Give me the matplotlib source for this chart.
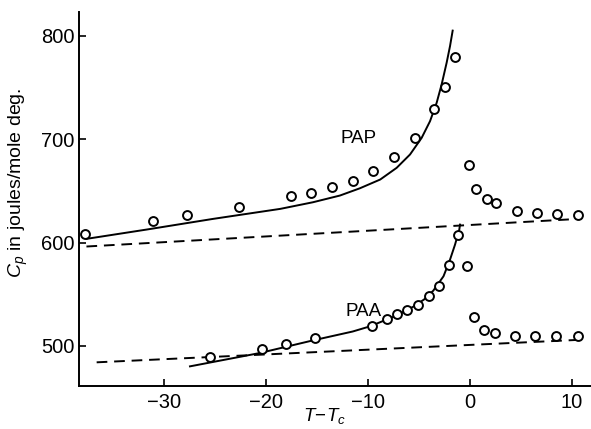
import matplotlib
matplotlib.use("Agg")
import matplotlib.pyplot as plt

plt.rcParams['font.family'] = ['Liberation Sans', 'DejaVu Sans']
plt.rcParams['mathtext.fontset'] = 'custom'
plt.rcParams['mathtext.rm'] = 'Liberation Sans'
plt.rcParams['mathtext.it'] = 'Liberation Sans:italic'

# PAP data points
pap_x = [-37.7, -31.1, -27.7, -22.6, -17.5, -15.6, -13.5, -11.5, -9.5, -7.45, -5.4, -3.5, -2.45, -1.44,
         -0.13, 0.59, 1.63, 2.55, 4.6, 6.6, 8.56, 10.56]
pap_y = [608.4, 621.0, 626.8, 634.5, 644.8, 648.0, 654.0, 659.3, 669.4, 682.6, 701.3, 729.6, 750.5, 779.6,
         674.7, 652.2, 641.8, 637.8, 631.0, 628.8, 627.8, 627.1]
# PAP fitted curve
pap_cx = [-37.6, -31.7, -25.2, -18.6, -15.4, -12.75, -10.8, -8.8, -7.19, -5.88, -4.74, -3.92, -3.27,
          -2.78, -2.29, -1.96, -1.7]
pap_cy = [603.6, 612.6, 622.9, 632.6, 639.0, 645.5, 652.5, 661.0, 672.3, 685.2, 701.3, 717.4, 735.2,
          753.0, 774.0, 790.0, 805.0]
# PAP background (dashed)
pap_bx = [-37.6, 10.8]
pap_by = [596.2, 623.0]

# PAA data points
paa_x = [-25.5, -20.4, -18.0, -15.2, -9.6, -8.17, -7.16, -6.18, -5.13, -4.05, -3.04, -2.06, -1.14,
         -0.26, 0.39, 1.4, 2.45, 4.44, 6.4, 8.43, 10.56]
paa_y = [489.7, 497.4, 502.0, 507.8, 519.6, 526.3, 530.9, 535.0, 540.0, 548.0, 558.4, 578.7, 607.7,
         577.7, 528.0, 515.8, 512.9, 510.0, 509.4, 509.4, 509.4]
# PAA fitted curve
paa_cx = [-27.45, -20.6, -15.4, -11.5, -9.8, -7.2, -5.56, -4.5, -3.6, -2.6, -1.96, -1.47, -1.05, -0.98]
paa_cy = [480.3, 493.2, 505.4, 514.0, 519.0, 529.5, 538.0, 545.0, 553.5, 567.4, 583.5, 598.0, 612.6, 617.4]
# PAA background (dashed)
paa_bx = [-36.6, 10.8]
paa_by = [484.2, 506.0]

xticks = [-30, -20, -10, 0, 10]
xticklabels = ['\u221230', '\u221220', '\u221210', '0', '10']
yticks = [500, 600, 700, 800]

fig = plt.figure(figsize=(5.91, 4.29), dpi=100)
ax = fig.add_axes([79/591, 1 - 386/429, 1 - 79/591, (386 - 12)/429])

lw = 1.4
ax.plot(pap_cx, pap_cy, color='black', lw=lw)
ax.plot(paa_cx, paa_cy, color='black', lw=lw)
ax.plot(pap_bx, pap_by, color='black', lw=lw, ls=(0, (5.5, 3.5)))
ax.plot(paa_bx, paa_by, color='black', lw=lw, ls=(0, (5.5, 3.5)))
ms = dict(ls='none', marker='o', ms=6.4, mfc='white', mec='black', mew=1.4, zorder=3)
ax.plot(pap_x, pap_y, **ms)
ax.plot(paa_x, paa_y, **ms)

ax.set_xlim(-38.33, 11.86)
ax.set_ylim(461.3, 823)
ax.set_xticks(xticks)
ax.set_yticks(yticks)
ax.set_xticklabels(xticklabels)
ax.tick_params(direction='in', length=5, width=1.2, labelsize=14.5, pad=3)
ax.tick_params(axis='x', pad=5)
for s in ['top', 'right']:
    ax.spines[s].set_visible(False)
for s in ['left', 'bottom']:
    ax.spines[s].set_linewidth(1.4)

ax.text(-10.9, 701, 'PAP', fontsize=13.5, ha='center', va='center')
ax.text(-10.4, 533, 'PAA', fontsize=13.5, ha='center', va='center')

fig.text(18/591, 1 - 183/429, r'$C_p$ in joules/mole deg.', rotation=90,
         fontsize=14, ha='center', va='center')
fig.text(325/591, 1 - 416/429, r'$T\!-\!T_c$', fontsize=13.5, ha='center', va='center')

fig.savefig('out.png', dpi=100)
